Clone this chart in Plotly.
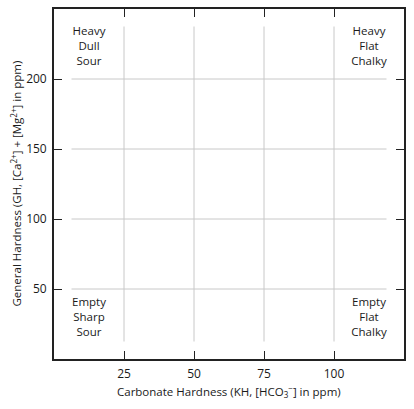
import plotly.graph_objects as go

x_ticks = [25, 50, 75, 100]
y_ticks = [50, 100, 150, 200]
x_range = [0, 125]
y_range = [0, 250]

label_x = [12.5, 112.5, 12.5, 112.5]
label_y = [223, 223, 29, 29]
labels = ["Heavy<br>Dull<br>Sour", "Heavy<br>Flat<br>Chalky",
          "Empty<br>Sharp<br>Sour", "Empty<br>Flat<br>Chalky"]

x_title = "Carbonate Hardness (KH, [HCO<sub>3</sub><sup>−</sup>] in ppm)"
y_title = "General Hardness (GH, [Ca<sup>2+</sup>] + [Mg<sup>2+</sup>] in ppm)"

FONT = "Open Sans"
TXT = "#1a1a1a"

fig = go.Figure()
fig.add_trace(go.Scatter(
    x=label_x, y=label_y, text=labels, mode="text",
    textfont=dict(family=FONT, size=11.5, color=TXT),
    hoverinfo="skip", showlegend=False,
))

gx0 = x_range[0] + 0.05 * (x_range[1] - x_range[0])
gx1 = x_range[1] - 0.05 * (x_range[1] - x_range[0])
gy0 = y_range[0] + 0.05 * (y_range[1] - y_range[0])
gy1 = y_range[1] - 0.05 * (y_range[1] - y_range[0])
for xv in x_ticks:
    fig.add_shape(type="line", x0=xv, x1=xv, y0=gy0, y1=gy1, xref="x", yref="y",
                  line=dict(color="#c8c8c8", width=1), layer="below")
for yv in y_ticks:
    fig.add_shape(type="line", x0=gx0, x1=gx1, y0=yv, y1=yv, xref="x", yref="y",
                  line=dict(color="#c8c8c8", width=1), layer="below")

axis_common = dict(
    showgrid=False, zeroline=False, showline=True, linecolor="#222", linewidth=1.5,
    mirror="ticks", ticks="inside", ticklen=8, tickwidth=1.2, tickcolor="#222",
    tickfont=dict(family=FONT, size=12, color=TXT), automargin=False,
)
fig.update_xaxes(range=x_range, tickvals=x_ticks, ticktext=[str(v) for v in x_ticks],
                 ticklabelstandoff=3, **axis_common)
fig.update_yaxes(range=y_range, tickvals=y_ticks,
                 ticktext=[str(v) + "\u00a0" for v in y_ticks],
                 ticklabelstandoff=0, **axis_common)

fig.add_annotation(text=x_title, xref="paper", yref="paper", x=0.5, y=-0.09,
                   xanchor="center", yanchor="middle", showarrow=False,
                   font=dict(family=FONT, size=11.5, color=TXT))
fig.add_annotation(text=y_title, xref="paper", yref="paper", x=-0.11, y=0.5,
                   xanchor="center", yanchor="middle", showarrow=False, textangle=-90,
                   font=dict(family=FONT, size=11.5, color=TXT))

fig.update_layout(
    width=414, height=409,
    margin=dict(l=54, r=10, t=9, b=50),
    paper_bgcolor="white", plot_bgcolor="white",
)
fig.write_html("out.html", config={"displayModeBar": False},
               post_script="document.body.style.margin='0';")
